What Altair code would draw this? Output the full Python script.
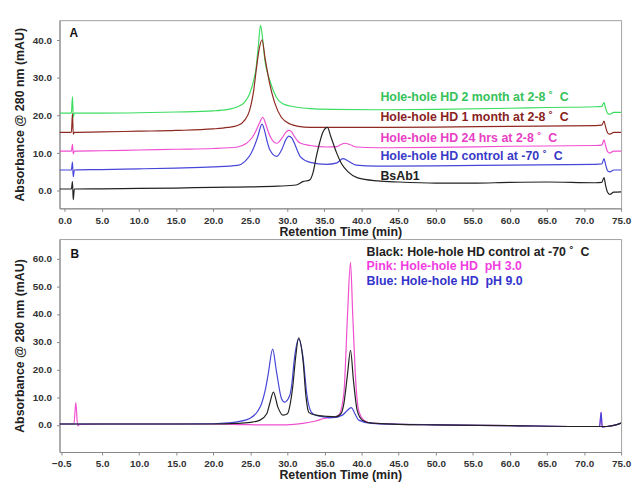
import altair as alt
import pandas as pd

FONT = "Liberation Sans"
NB = "\u00a0"

# ---------------- Panel A data (retention time in min, absorbance in mAU) ----------------
a_green_t = [-0.7, 0.9, 1.05, 1.15, 1.3, 5, 10, 15, 20, 22, 23.3, 24.3, 24.9, 25.5, 25.8, 26.1, 26.4, 26.7, 27.0,
             27.6, 28.2, 28.7, 29.5, 30.4, 31.5, 33.1, 36, 42, 50, 60, 65, 71.5, 72.4, 72.7, 72.9, 73.2, 73.5, 74, 75]
a_green_v = [20.6, 20.6, 25.0, 19.5, 20.6, 20.6, 20.7, 20.9, 21.2, 21.6, 22.3, 23.6, 25.6, 29.5, 32.6, 38.5, 43.9, 40.0, 34.4,
             29.6, 26.2, 24.3, 23.0, 22.5, 22.1, 21.8, 21.6, 21.5, 21.6, 21.9, 22.1, 22.3, 22.4, 23.4, 22.0, 20.5, 20.3, 20.8, 20.8]

a_brown_t = [-0.7, 0.9, 1.05, 1.15, 1.3, 5, 10, 15, 20, 22, 23.3, 24.3, 24.9, 25.5, 25.8, 26.2, 26.6, 27.0, 27.6,
             28.3, 29.2, 30.4, 31.5, 33.1, 42, 50, 60, 71.5, 72.4, 72.7, 72.9, 73.2, 73.5, 74, 75]
a_brown_v = [15.5, 15.5, 20.5, 15.0, 15.5, 15.6, 15.8, 16.0, 16.4, 16.8, 17.3, 18.8, 21.2, 27.0, 31.8, 37.5, 40.1, 35.3, 28.7,
             23.4, 19.5, 17.7, 17.1, 16.8, 16.8, 16.9, 17.1, 17.3, 17.4, 18.5, 17.0, 15.3, 15.0, 15.5, 15.5]

a_pink_t = [-0.7, 0.9, 1.05, 1.15, 1.3, 5, 10, 15, 20, 23.3, 24.5, 25.3, 25.8, 26.2, 26.7, 27.1, 27.5, 27.8, 28.6,
            29.3, 29.8, 30.2, 30.6, 30.9, 31.4, 31.8, 33.1, 35.3, 36.7, 37.2, 37.8, 38.5, 39.3, 42, 50, 60, 71.5,
            72.4, 72.7, 72.9, 73.2, 73.5, 74, 75]
a_pink_v = [10.5, 10.5, 12.3, 9.8, 10.5, 10.6, 10.8, 11.0, 11.2, 11.6, 12.6, 14.2, 16.0, 17.7, 19.5, 17.7, 15.3, 14.0, 12.6,
            14.0, 15.5, 16.0, 15.6, 14.6, 13.2, 12.6, 12.0, 11.6, 11.7, 12.2, 12.6, 12.2, 11.6, 11.4, 11.5, 11.8, 12.0,
            12.1, 13.5, 12.0, 10.3, 10.0, 10.5, 10.5]

a_blue_t = [-0.7, 0.9, 1.05, 1.15, 1.3, 5, 10, 15, 20, 23.3, 24.3, 25.1, 25.6, 26.0, 26.6, 27.0, 27.3, 27.6, 28.6,
            29.3, 29.8, 30.2, 30.6, 30.9, 31.4, 31.8, 33.1, 35.3, 36.7, 37.5, 38.2, 39.3, 42, 50, 60, 71.5,
            72.4, 72.7, 72.9, 73.2, 73.5, 74, 75]
a_blue_v = [5.5, 5.5, 7.6, 3.7, 5.5, 5.6, 5.8, 6.0, 6.3, 6.7, 7.8, 9.8, 12.0, 14.2, 17.7, 15.5, 13.0, 11.1, 9.1,
            11.1, 13.5, 14.5, 14.0, 12.9, 10.5, 8.9, 7.5, 7.0, 7.4, 8.5, 7.9, 6.8, 6.5, 6.6, 6.8, 7.0,
            7.1, 8.5, 7.0, 5.2, 5.0, 5.5, 5.5]

a_black_t = [-0.7, 0.9, 1.05, 1.15, 1.3, 5, 10, 15, 20, 25, 28.7, 31.2, 32.1, 33.0, 33.5, 33.9, 34.4, 34.8, 35.4,
             35.9, 36.6, 37.3, 38.2, 39.5, 42.2, 45, 50, 55, 60, 65, 71.5, 72.4, 72.7, 72.9, 73.2, 73.5, 74, 75]
a_black_v = [0.45, 0.45, 2.4, -2.4, 0.45, 0.5, 0.6, 0.7, 0.9, 1.0, 1.2, 1.5, 2.4, 2.8, 5.0, 8.9, 13.0, 15.5, 16.8,
             14.2, 10.3, 7.2, 5.0, 3.4, 2.6, 2.3, 2.0, 2.0, 2.2, 2.3, 2.1, 2.2, 3.5, 1.5, -0.5, -1.0, -0.4, -0.3]

a_names = ["green", "brown", "pink", "blue", "black"]
a_labels = ["Hole-hole HD 2 month at 2-8 \u02da" + NB + NB + "C",
            "Hole-hole HD 1 month at 2-8 \u02da" + NB + NB + "C",
            "Hole-hole HD 24 hrs at 2-8 \u02da" + NB + NB + "C",
            "Hole-hole HD control at -70 \u02da" + NB + NB + "C",
            "BsAb1"]
a_line_colors = ["#3ddc62", "#8e2a22", "#f04fd0", "#4646d8", "#222222"]
a_text_colors = ["#35c25a", "#8a1f1f", "#e83fc4", "#3a3ac8", "#222222"]

# ---------------- Panel B data ----------------
b_black_t = [-0.75, 5, 10, 15, 20, 23, 25, 26.3, 27.2, 27.6, 28.1, 28.7, 29.4, 30.0, 30.4, 30.7, 31.1, 31.5, 32.1,
             32.5, 32.9, 33.8, 35.2, 36.5, 37.2, 37.6, 38.1, 38.5, 38.9, 39.4, 40.1, 41.4, 45, 50, 60, 70, 72, 73, 74, 75]
b_black_v = [0.3, 0.3, 0.3, 0.3, 0.3, 0.5, 0.9, 1.7, 4.0, 7.6, 11.8, 6.4, 3.5, 4.0, 8.0, 13.6, 24.3, 31.4, 23.1,
             10.0, 4.4, 3.5, 3.1, 2.9, 4.0, 7.6, 18.3, 26.9, 16.0, 5.2, 1.7, 0.6, 0.2, 0.0, -0.3, -0.6, -0.6, -0.6, -0.2, 0.6]

b_blue_t = [-0.75, 5, 10, 15, 20, 22, 23.2, 24.9, 26.0, 26.5, 27.0, 27.4, 28.0, 28.5, 29.2, 29.6, 30.3, 30.6, 30.9,
            31.5, 32.1, 32.6, 33.2, 33.8, 34.9, 36.1, 37.4, 38.0, 38.6, 39.1, 39.6, 41.4, 45, 50, 60, 70, 72.1,
            72.3, 72.45, 73, 74, 75]
b_blue_v = [0.3, 0.3, 0.3, 0.3, 0.4, 0.7, 1.1, 2.3, 5.0, 7.6, 12.5, 18.3, 27.3, 19.5, 9.4, 8.2, 10.6, 15.0, 23.1,
            30.8, 24.3, 11.2, 4.6, 3.5, 2.9, 2.6, 3.5, 5.0, 6.2, 4.0, 1.7, 0.5, 0.2, 0.0, -0.3, -0.6, -0.6,
            4.5, -0.8, -0.6, -0.2, 0.6]

b_pink_t = [-0.75, 1.2, 1.45, 1.7, 2.0, 5, 10, 20, 24, 26.3, 29.8, 32.1, 33.8, 34.9, 36.0, 36.9, 37.6, 38.1, 38.5,
            38.8, 39.2, 39.6, 40.3, 41.4, 45, 50, 60, 70, 72.1, 72.3, 72.45, 73, 74, 75]
b_pink_v = [0.3, 0.3, 8.0, -0.3, 0.2, 0.3, 0.3, 0.3, 0.1, 0.0, 0.0, 0.5, 1.4, 2.3, 2.7, 3.5, 11.2, 39.8, 58.6,
            39.8, 16.0, 5.2, 1.7, 0.6, 0.2, 0.0, -0.3, -0.6, -0.6, 4.5, -0.8, -0.6, -0.2, 0.6]

b_names = ["pink", "blue", "black"]
b_labels = ["Black: Hole-hole HD control at -70 \u02da" + NB + NB + "C",
            "Pink: Hole-hole HD" + NB + NB + "pH 3.0",
            "Blue: Hole-hole HD" + NB + NB + "pH 9.0"]
b_line_colors = ["#ff44e6", "#3c3cd8", "#222222"]
b_text_colors = ["#222222", "#f03ee0", "#3434cc"]

a_xticks = [0, 5, 10, 15, 20, 25, 30, 35, 40, 45, 50, 55, 60, 65, 70, 75]
a_yticks = [0, 10, 20, 30, 40]
b_xticks = [-0.5, 5, 10, 15, 20, 25, 30, 35, 40, 45, 50, 55, 60, 65, 70, 75]
b_yticks = [0, 10, 20, 30, 40, 50, 60]


def frame(names, ts, vs):
    rows = []
    for order, (n, t, v) in enumerate(zip(names, ts, vs)):
        for i, (ti, vi) in enumerate(zip(t, v)):
            rows.append({"series": n, "t": ti, "v": vi, "ord": order, "i": i})
    return pd.DataFrame(rows)


dfA = frame(a_names, [a_green_t, a_brown_t, a_pink_t, a_blue_t, a_black_t],
            [a_green_v, a_brown_v, a_pink_v, a_blue_v, a_black_v])
dfB = frame(b_names, [b_pink_t, b_blue_t, b_black_t], [b_pink_v, b_blue_v, b_black_v])

W = 567
HA = 190
HB = 215

x_title = "Retention Time (min)"
y_title = "Absorbance @ 280 nm (mAU)"


def axis(values, fmt):
    return alt.Axis(values=values, format=fmt, labelFlush=False, labelOverlap=False, labelBound=False)


linesA = alt.Chart(dfA).mark_line(strokeWidth=1.2, interpolate="monotone", clip=True).encode(
    x=alt.X("t:Q", scale=alt.Scale(domain=[-0.7, 75], nice=False, zero=False), axis=axis(a_xticks, ".1f"), title=x_title),
    y=alt.Y("v:Q", scale=alt.Scale(domain=[-4.7, 45.3], nice=False, zero=False), axis=axis(a_yticks, ".1f"), title=y_title),
    color=alt.Color("series:N", scale=alt.Scale(domain=a_names, range=a_line_colors), legend=None),
    detail="series:N",
    order="i:Q",
)

a_text_pos = [(324, 78), (324, 98), (324, 119.5), (324, 137.5), (324, 157.5)]
textsA = []
for lab, col, (px, py) in zip(a_labels, a_text_colors, a_text_pos):
    textsA.append(alt.Chart(pd.DataFrame({"label": [lab]})).mark_text(
        align="left", baseline="middle", font=FONT, fontSize=12.5, fontWeight="bold", color=col
    ).encode(x=alt.value(px), y=alt.value(py), text="label:N"))
panelA_tag = alt.Chart(pd.DataFrame({"label": ["A"]})).mark_text(
    align="left", baseline="middle", font=FONT, fontSize=12, fontWeight="bold", color="#111"
).encode(x=alt.value(10), y=alt.value(13), text="label:N")

panelA = alt.layer(linesA, *textsA, panelA_tag).properties(width=W, height=HA)

linesB = alt.Chart(dfB).mark_line(strokeWidth=1.2, interpolate="monotone", clip=True).encode(
    x=alt.X("t:Q", scale=alt.Scale(domain=[-0.75, 75], nice=False, zero=False), axis=axis(b_xticks, ".1f"), title=x_title),
    y=alt.Y("v:Q", scale=alt.Scale(domain=[-9.8, 67], nice=False, zero=False), axis=axis(b_yticks, ".1f"), title=y_title),
    color=alt.Color("series:N", scale=alt.Scale(domain=b_names, range=b_line_colors), legend=None),
    detail="series:N",
    order="i:Q",
)

b_text_pos = [(310, 13), (310, 27.5), (310, 42)]
textsB = []
for lab, col, (px, py) in zip(b_labels, b_text_colors, b_text_pos):
    textsB.append(alt.Chart(pd.DataFrame({"label": [lab]})).mark_text(
        align="left", baseline="middle", font=FONT, fontSize=12.5, fontWeight="bold", color=col
    ).encode(x=alt.value(px), y=alt.value(py), text="label:N"))
panelB_tag = alt.Chart(pd.DataFrame({"label": ["B"]})).mark_text(
    align="left", baseline="middle", font=FONT, fontSize=12, fontWeight="bold", color="#111"
).encode(x=alt.value(11), y=alt.value(15), text="label:N")

panelB = alt.layer(linesB, *textsB, panelB_tag).properties(width=W, height=HB)

chart = alt.vconcat(panelA, panelB, spacing=0).properties(
    padding={"left": 5, "top": 9, "right": 0, "bottom": 0},
    background="white",
).configure_view(
    stroke="#a0a0a0", strokeWidth=1
).configure_axis(
    grid=False,
    domainColor="#888888",
    tickColor="#888888",
    tickSize=3,
    labelFont=FONT,
    labelFontSize=10,
    labelFontWeight="bold",
    labelColor="#333333",
    titleFont=FONT,
    titleFontSize=12.5,
    titleFontWeight="bold",
    titleColor="#222222",
).configure_axisX(
    labelPadding=4,
    titlePadding=0,
).configure_axisY(
    labelPadding=5,
    titlePadding=6,
)

chart.save("out.html", embed_options={"renderer": "svg", "actions": False})
